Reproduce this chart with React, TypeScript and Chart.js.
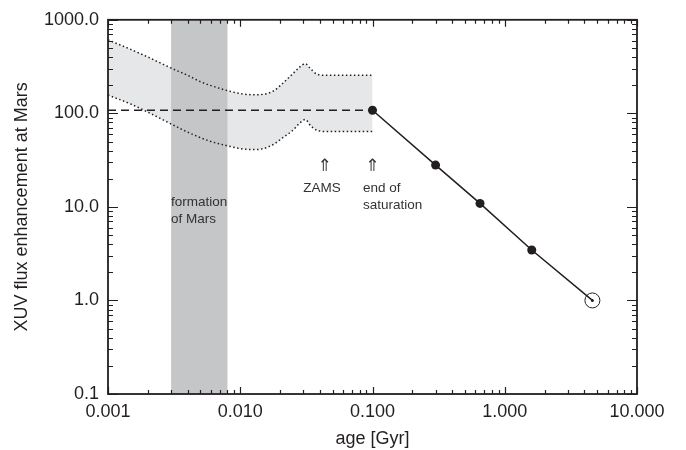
import React, { useEffect, useRef } from "react";
import { Chart, registerables } from "chart.js";

Chart.register(...registerables);

// ---- data ----
const bandAges = [0.001, 0.0015, 0.002, 0.003, 0.004, 0.005, 0.006, 0.008, 0.01, 0.0125, 0.015, 0.018, 0.021, 0.025, 0.028, 0.031, 0.034, 0.038, 0.045, 0.06, 0.08, 0.1];
const bandUpper = [610, 480, 400, 305, 255, 218, 198, 175, 163, 158, 160, 175, 210, 265, 310, 340, 300, 262, 255, 255, 255, 255];
const bandLower = [157, 125, 103, 77, 63, 55, 50, 45, 42, 41, 42, 47, 55, 66, 78, 86, 74, 66, 64, 64, 64, 64];

const satAges = [0.001, 0.1];
const satFlux = [108, 108];

const decayAges = [0.1, 0.3, 0.65, 1.6, 4.6];
const decayFlux = [108, 28, 10.9, 3.46, 1.0];

const sunAge = [4.6];
const sunFlux = [1.0];

const marsFormation = [0.003, 0.008];

const xTicks = [0.001, 0.01, 0.1, 1, 10];
const xTickLabels = ["0.001", "0.010", "0.100", "1.000", "10.000"];
const yTicks = [0.1, 1, 10, 100, 1000];
const yTickLabels = ["0.1", "1.0", "10.0", "100.0", "1000.0"];

const notes = [
  { text: "formation", age: 0.003, flux: 11.1, align: "left" },
  { text: "of Mars", age: 0.003, flux: 7.3, align: "left" },
  { text: "ZAMS", age: 0.0415, flux: 16.0, align: "center" },
  { text: "end of", age: 0.0847, flux: 16.0, align: "left" },
  { text: "saturation", age: 0.0847, flux: 10.5, align: "left" },
];
const arrows = [
  { age: 0.0437, flux: 27.2 },
  { age: 0.1, flux: 27.2 },
];

const INK = "#231f20";
const FONT = "'Liberation Sans', Arial, Helvetica, sans-serif";

const decorPlugin = {
  id: "decor",
  beforeDatasetsDraw(chart: any) {
    const { ctx, chartArea: a, scales } = chart;
    const x = scales.x;
    const x0 = x.getPixelForValue(marsFormation[0]);
    const x1 = x.getPixelForValue(marsFormation[1]);
    ctx.save();
    ctx.fillStyle = "#c5c6c8";
    ctx.fillRect(x0, a.top, x1 - x0, a.bottom - a.top);
    ctx.restore();
  },
  afterDatasetsDraw(chart: any) {
    const { ctx, chartArea: a, scales } = chart;
    const x = scales.x;
    const y = scales.y;
    ctx.save();
    ctx.strokeStyle = INK;
    ctx.lineWidth = 1.2;
    ctx.beginPath();
    for (let e = -3; e <= 1; e++) {
      for (let k = 1; k < 10; k++) {
        const v = k * Math.pow(10, e);
        if (v > 10.0001) break;
        const px = Math.round(x.getPixelForValue(v)) + 0.5;
        const len = k === 1 ? 7 : 4;
        ctx.moveTo(px, a.bottom);
        ctx.lineTo(px, a.bottom - len);
        ctx.moveTo(px, a.top);
        ctx.lineTo(px, a.top + len);
      }
    }
    for (let e = -1; e <= 3; e++) {
      for (let k = 1; k < 10; k++) {
        const v = k * Math.pow(10, e);
        if (v > 1000.001) break;
        const py = Math.round(y.getPixelForValue(v)) + 0.5;
        const len = k === 1 ? 10 : 5;
        ctx.moveTo(a.left, py);
        ctx.lineTo(a.left + len, py);
        ctx.moveTo(a.right, py);
        ctx.lineTo(a.right - len, py);
      }
    }
    ctx.stroke();
    ctx.lineWidth = 1.8;
    ctx.strokeRect(a.left, a.top, a.right - a.left, a.bottom - a.top);

    ctx.fillStyle = "#333333";
    ctx.textBaseline = "middle";
    ctx.font = `13.5px ${FONT}`;
    for (const n of notes) {
      ctx.textAlign = n.align as CanvasTextAlign;
      ctx.fillText(n.text, x.getPixelForValue(n.age), y.getPixelForValue(n.flux));
    }
    ctx.font = `17px 'DejaVu Sans', sans-serif`;
    ctx.textAlign = "center";
    for (const ar of arrows) {
      ctx.fillText("\u21D1", x.getPixelForValue(ar.age), y.getPixelForValue(ar.flux));
    }
    ctx.restore();
  },
};

const toXY = (xs: number[], ys: number[]) => xs.map((v, i) => ({ x: v, y: ys[i] }));

export default function App() {
  const ref = useRef<HTMLCanvasElement | null>(null);
  useEffect(() => {
    if (!ref.current) return;
    const chart = new Chart(ref.current, {
      type: "line",
      data: {
        datasets: [
          {
            data: toXY(decayAges, decayFlux),
            borderColor: INK,
            backgroundColor: INK,
            borderWidth: 1.5,
            pointRadius: [4.5, 4.5, 4.5, 4.5, 1.5],
            pointBorderWidth: 0,
            fill: false,
          },
          {
            data: toXY(sunAge, sunFlux),
            showLine: false,
            borderColor: INK,
            backgroundColor: "rgba(0,0,0,0)",
            pointRadius: 7.5,
            pointBorderWidth: 1,
            fill: false,
          },
          {
            data: toXY(satAges, satFlux),
            borderColor: INK,
            borderWidth: 1.5,
            borderDash: [8, 5],
            pointRadius: 0,
            fill: false,
          },
          {
            data: toXY(bandAges, bandUpper),
            borderColor: INK,
            borderWidth: 1.5,
            borderDash: [1.5, 2.5],
            pointRadius: 0,
            cubicInterpolationMode: "monotone",
            backgroundColor: "#e6e7e8",
            fill: "+1",
          },
          {
            data: toXY(bandAges, bandLower),
            borderColor: INK,
            borderWidth: 1.5,
            borderDash: [1.5, 2.5],
            pointRadius: 0,
            cubicInterpolationMode: "monotone",
            fill: false,
          },
        ],
      },
      options: {
        animation: false,
        responsive: false,
        layout: { padding: { top: 18, right: 49, left: 0, bottom: 0 } },
        plugins: {
          legend: { display: false },
          tooltip: { enabled: false },
          filler: { drawTime: "beforeDraw" },
        } as any,
        scales: {
          x: {
            type: "logarithmic",
            min: 0.001,
            max: 10,
            grid: { display: false, drawTicks: false },
            border: { display: false },
            afterBuildTicks: (s: any) => {
              s.ticks = xTicks.map((v) => ({ value: v }));
            },
            afterFit: (s: any) => {
              s.height = 56;
            },
            ticks: {
              autoSkip: false,
              maxRotation: 0,
              padding: 7,
              color: INK,
              font: { family: FONT, size: 18 },
              callback: (v: any) => xTickLabels[xTicks.indexOf(Number(v))],
            },
            title: {
              display: true,
              text: "age [Gyr]",
              color: INK,
              font: { family: FONT, size: 18 },
              padding: { top: 0, bottom: 0 },
            },
          },
          y: {
            type: "logarithmic",
            min: 0.1,
            max: 1000,
            grid: { display: false, drawTicks: false },
            border: { display: false },
            afterBuildTicks: (s: any) => {
              s.ticks = yTicks.map((v) => ({ value: v }));
            },
            afterFit: (s: any) => {
              s.width = 108;
            },
            ticks: {
              autoSkip: false,
              padding: 9,
              color: INK,
              font: { family: FONT, size: 18 },
              callback: (v: any) => yTickLabels[yTicks.indexOf(Number(v))],
            },
            title: {
              display: true,
              text: "XUV flux enhancement at Mars",
              color: INK,
              font: { family: FONT, size: 18 },
              padding: { top: 11, bottom: 0 },
            },
          },
        },
      } as any,
      plugins: [decorPlugin],
    });
    return () => chart.destroy();
  }, []);
  return (
    <div style={{ position: "absolute", left: 0, top: 0, width: 686, height: 450, background: "#fff" }}>
      <canvas ref={ref} width={686} height={450} />
    </div>
  );
}
